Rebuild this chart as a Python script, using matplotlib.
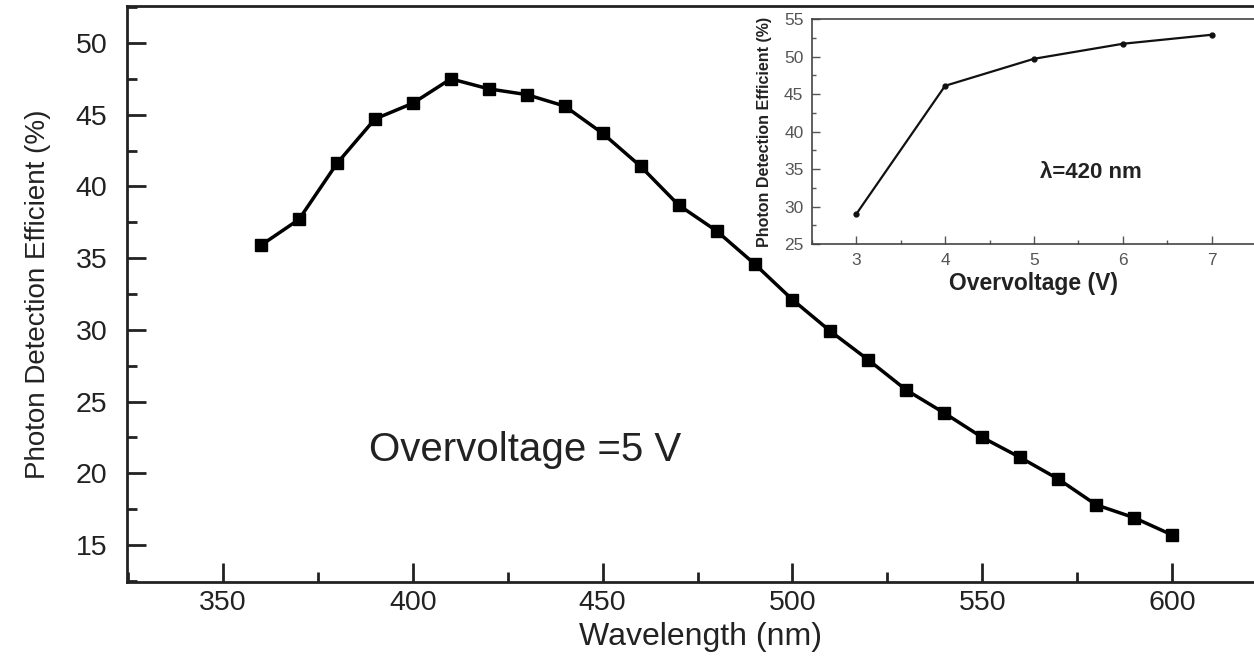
import matplotlib
matplotlib.use("Agg")
import matplotlib.pyplot as plt
from matplotlib.ticker import MultipleLocator

plt.rcParams['font.family'] = ['Liberation Sans', 'DejaVu Sans']

# Main curve data
wavelength = [360, 370, 380, 390, 400, 410, 420, 430, 440, 450, 460, 470, 480,
              490, 500, 510, 520, 530, 540, 550, 560, 570, 580, 590, 600]
pde = [35.9, 37.7, 41.6, 44.7, 45.8, 47.5, 46.8, 46.4, 45.6, 43.7, 41.4, 38.7, 36.9,
       34.6, 32.1, 29.9, 27.9, 25.8, 24.2, 22.5, 21.1, 19.6, 17.8, 16.9, 15.7]

# Inset data
overvoltage = [3, 4, 5, 6, 7]
pde_inset = [29.0, 46.1, 49.7, 51.7, 52.9]

main_xticks = [350, 400, 450, 500, 550, 600]
main_yticks = [15, 20, 25, 30, 35, 40, 45, 50]
inset_xticks = [3, 4, 5, 6, 7]
inset_yticks = [25, 30, 35, 40, 45, 50, 55]

fig = plt.figure(figsize=(12.54, 6.57), dpi=100)

# main axes
x0, x1 = 324.7, 630.0
ax_w = (x1 - x0) * 3.796 / 1254
ax = fig.add_axes([0.1013, 0.1142, ax_w, 0.8767])
ax.plot(wavelength, pde, color='black', lw=2.5, marker='s', ms=8.5, mfc='black', mec='black')
ax.set_xlim(x0, x1)
ax.set_ylim(12.42, 52.58)
ax.set_xticks(main_xticks)
ax.set_yticks(main_yticks)
ax.xaxis.set_minor_locator(MultipleLocator(25))
ax.yaxis.set_minor_locator(MultipleLocator(2.5))
ax.tick_params(which='both', direction='in', width=2, colors='#222222', labelcolor='#222222')
ax.tick_params(which='major', length=14, labelsize=20.5)
ax.tick_params(which='minor', length=7)
ax.tick_params(axis='y', which='major', pad=14)
ax.tick_params(axis='x', which='major', pad=6)
for s in ax.spines.values():
    s.set_linewidth(2)
    s.set_color('#222222')
ax.set_xlabel('Wavelength (nm)', fontsize=23, color='#222222')
ax.xaxis.set_label_coords((700 - 127) / (1254 * ax_w), -0.0694)
ax.set_ylabel('Photon Detection Efficient (%)', fontsize=20, color='#222222')
ax.yaxis.set_label_coords(-0.066, 0.5)
ax.text(429.5, 21.6, 'Overvoltage =5 V', fontsize=29, color='#222222', ha='center', va='center')

# inset axes
ix0, ix1 = 2.5, 7.5
axi = fig.add_axes([0.6473, 0.6282, (ix1 - ix0) * 88.9 / 1254, 0.3429])
axi.set_facecolor('white')
axi.plot(overvoltage, pde_inset, color='#111111', lw=1.6, marker='o', ms=3.5)
axi.set_xlim(ix0, ix1)
axi.set_ylim(25, 55)
axi.set_xticks(inset_xticks)
axi.set_yticks(inset_yticks)
axi.xaxis.set_minor_locator(MultipleLocator(0.5))
axi.yaxis.set_minor_locator(MultipleLocator(2.5))
axi.tick_params(which='both', direction='in', width=1, colors='#555555', labelcolor='#555555')
axi.tick_params(which='major', length=6, labelsize=12.5)
axi.tick_params(which='minor', length=3)
axi.tick_params(axis='y', which='major', pad=6)
axi.tick_params(axis='x', which='major', pad=6)
for s in axi.spines.values():
    s.set_linewidth(1.2)
    s.set_color('#444444')
axi.set_xlabel('Overvoltage (V)', fontsize=16.5, fontweight='bold', color='#222222', labelpad=3)
axi.set_ylabel('Photon Detection Efficient (%)', fontsize=11.5, fontweight='bold', color='#222222')
axi.yaxis.set_label_coords(-0.090, 0.5)
axi.text(5.64, 34.5, 'λ=420 nm', fontsize=16, fontweight='bold', color='#222222', ha='center', va='center')

fig.savefig('out.png', dpi=100)
